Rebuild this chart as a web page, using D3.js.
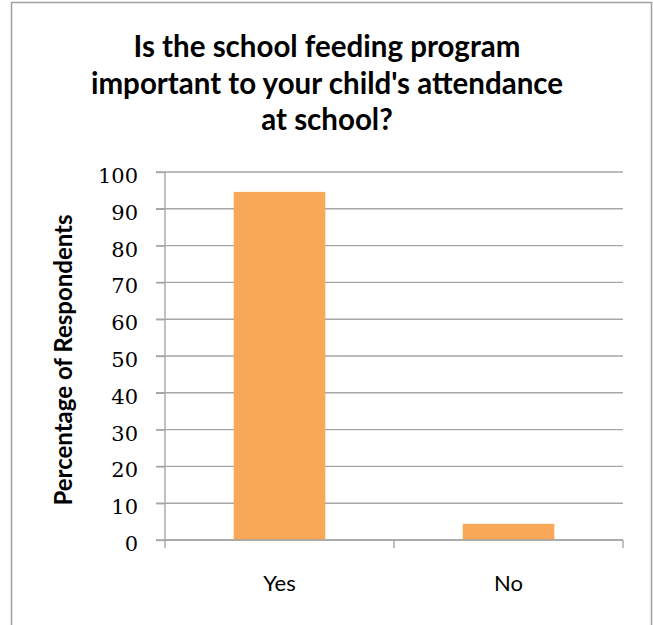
<!DOCTYPE html>
<html>
<head>
<meta charset="utf-8">
<style>
  body { margin: 0; background: #fff; }
</style>
</head>
<body>
<div id="chart"></div>
<script src="https://d3js.org/d3.v7.min.js"></script>
<script>
// data
var categories = ["Yes", "No"];
var values = [94.6, 4.4];
var yTicks = [0, 10, 20, 30, 40, 50, 60, 70, 80, 90, 100];
var titleLines = ["Is the school feeding program", "important to your child's attendance", "at school?"];
var yTitle = "Percentage of Respondents";

var W = 653, H = 625;
var margin = {top: 172, right: 30, bottom: 85, left: 165};
var width = 623 - margin.left;
var height = 540 - margin.top;

var svg = d3.select("#chart").append("svg")
    .attr("width", W)
    .attr("height", H);

// chart frame (bottom edge runs off the picture)
svg.append("rect")
    .attr("x", 11.5).attr("y", 2.5)
    .attr("width", 640).attr("height", H + 10)
    .attr("fill", "none")
    .attr("stroke", "#a0a0a0")
    .attr("stroke-width", 1.5);

var g = svg.append("g").attr("transform", "translate(" + margin.left + "," + margin.top + ")");

var x = d3.scaleBand()
    .domain(categories)
    .range([0, width])
    .paddingInner(0)
    .paddingOuter(0);

var y = d3.scaleLinear()
    .domain([0, 100])
    .range([height, 0]);

// gridlines
g.append("g")
  .selectAll("line")
  .data(yTicks)
  .enter().append("line")
    .attr("x1", -9)
    .attr("x2", width)
    .attr("y1", function(d) { return y(d); })
    .attr("y2", function(d) { return y(d); })
    .attr("stroke", "#a6a6a6")
    .attr("stroke-width", 1.4);

// bars, 150% gap width like excel
var barW = x.bandwidth() / 2.5;
g.append("g")
  .selectAll("rect")
  .data(values)
  .enter().append("rect")
    .attr("x", function(d, i) { return x(categories[i]) + (x.bandwidth() - barW) / 2; })
    .attr("y", function(d) { return y(d); })
    .attr("width", barW)
    .attr("height", function(d) { return y(0) - y(d); })
    .attr("fill", "#f9a857");

// y axis
var yAxis = g.append("g")
    .call(d3.axisLeft(y).tickValues(yTicks).tickSize(9).tickPadding(18));
yAxis.select(".domain").attr("stroke", "#a6a6a6").attr("stroke-width", 1.4).attr("d", "M0," + y(0) + "V" + y(100));
yAxis.selectAll(".tick line").attr("stroke", "#a6a6a6").attr("stroke-width", 1.4);
yAxis.selectAll(".tick text")
    .attr("dy", "0.5em")
    .style("font-family", "DejaVu Serif")
    .style("font-size", "21px")
    .attr("fill", "#000");

// x axis, ticks between the categories
var xAxis = g.append("g").attr("transform", "translate(0," + height + ")");
xAxis.append("line")
    .attr("x1", 0).attr("x2", width)
    .attr("stroke", "#a6a6a6").attr("stroke-width", 1.4);
xAxis.selectAll(".xtick")
  .data(categories.concat(["end"]))
  .enter().append("line")
    .attr("class", "xtick")
    .attr("x1", function(d, i) { return i * x.bandwidth(); })
    .attr("x2", function(d, i) { return i * x.bandwidth(); })
    .attr("y1", 0).attr("y2", 8)
    .attr("stroke", "#a6a6a6").attr("stroke-width", 1.4);
xAxis.selectAll(".xlabel")
  .data(categories)
  .enter().append("text")
    .attr("class", "xlabel")
    .attr("x", function(d) { return x(d) + x.bandwidth() / 2; })
    .attr("y", 51)
    .attr("text-anchor", "middle")
    .style("font-family", "Lato")
    .style("font-size", "22px")
    .attr("fill", "#000")
    .text(function(d) { return d; });

// y axis title
svg.append("text")
    .attr("transform", "translate(72,360) rotate(-90)")
    .attr("text-anchor", "middle")
    .style("font-family", "Lato")
    .style("font-weight", "bold")
    .style("font-size", "24px")
    .attr("fill", "#000")
    .text(yTitle);

// chart title
svg.append("g")
  .selectAll("text")
  .data(titleLines)
  .enter().append("text")
    .attr("x", 327)
    .attr("y", function(d, i) { return 57 + i * 36.5; })
    .attr("text-anchor", "middle")
    .style("font-family", "Lato")
    .style("font-weight", "bold")
    .style("font-size", "29.5px")
    .attr("fill", "#000")
    .text(function(d) { return d; });
</script>
</body>
</html>
